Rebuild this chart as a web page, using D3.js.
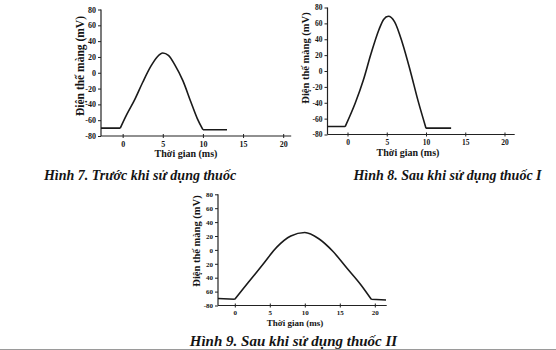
<!DOCTYPE html>
<html>
<head>
<meta charset="utf-8">
<script src="https://cdn.jsdelivr.net/npm/d3@7"></script>
<style>
  html, body { margin: 0; padding: 0; background: #fff; }
  svg { display: block; }
  text { font-family: "Liberation Serif", "DejaVu Serif", serif; fill: #141414; }
</style>
</head>
<body>
<svg id="chart" width="556" height="350"></svg>
<script>
// Membrane potential (mV) over time (ms) for the three recordings
const fig7Time = [-2.7, -0.3, 0.5, 1.5, 2.5, 3.5, 4.3, 5, 5.7, 6.5, 7.5, 8.5, 9.3, 10, 13];
const fig7Volt = [-70, -70, -53, -34, -12, 8, 20, 25, 22, 10, -10, -37, -58, -72, -72];

const fig8Time = [-2.55, -0.3, 1, 2, 3, 4, 4.6, 5.2, 6, 7, 8, 9, 10, 13.2];
const fig8Volt = [-70, -70, -40, -12, 22, 52, 65, 69, 62, 35, 0, -38, -72, -72];

const fig9Time = [-2.4, 0, 2, 4, 6, 8, 10, 12, 14, 16, 18, 19.5, 21.6];
const fig9Volt = [-70, -71, -46, -21, 4, 20, 25, 16, -2, -26, -50, -71, -72];

// Axis ticks and their labels
const xTicks = [0, 5, 10, 15, 20];
const yTicks = [-80, -60, -40, -20, 0, 20, 40, 60, 80];
const yTickLabels = ["-80", "-60", "-40", "-20", "0", "20", "40", "60", "80"];
const yTickLabelsFig9 = ["-80", "60", "40", "20", "0", "20", "40", "60", "80"];

// Titles
const xTitle = "Thời gian (ms)";
const yTitle = "Điện thế màng (mV)";
const captions = [
  "Hình 7. Trước khi sử dụng thuốc",
  "Hình 8. Sau khi sử dụng thuốc I",
  "Hình 9. Sau khi sử dụng thuốc II"
];

const svg = d3.select("#chart");

const panels = [
  { time: fig7Time, volt: fig7Volt, yLabels: yTickLabels, caption: captions[0],
    xDom: [-2.7, 21], xRange: [101, 291.2], yRange: [136, 9.5],
    tickFont: 8, yTitleFont: 11.5, yTitleX: 80, yTitleY: 66, xTitleFont: 10, xTitleX: 186, xTitleY: 157,
    capX: 140, capY: 180, capFont: 14 },
  { time: fig8Time, volt: fig8Volt, yLabels: yTickLabels, caption: captions[1],
    xDom: [-2.55, 21.3], xRange: [327.5, 514.7], yRange: [134.5, 7.5],
    tickFont: 7.5, yTitleFont: 10.5, yTitleX: 305, yTitleY: 58, xTitleFont: 10, xTitleX: 408, xTitleY: 156,
    capX: 447.5, capY: 180, capFont: 14 },
  { time: fig9Time, volt: fig9Volt, yLabels: yTickLabelsFig9, caption: captions[2],
    xDom: [-2.4, 21.7], xRange: [218, 386.7], yRange: [305.5, 194.3],
    tickFont: 7, yTitleFont: 10.5, yTitleX: 196, yTitleY: 241, xTitleFont: 9, xTitleX: 295, xTitleY: 326,
    capX: 293.5, capY: 346, capFont: 15 }
];

// Split a trace into pieces at the corners where the resting level meets the spike,
// so the smooth curve does not round those corners off.
function splitAtCorners(time, volt) {
  const flat = i => Math.abs(volt[i + 1] - volt[i]) < 2.5;
  const cuts = [0];
  for (let i = 1; i < volt.length - 1; i++) {
    if (flat(i - 1) !== flat(i)) cuts.push(i);
  }
  cuts.push(volt.length - 1);
  const pieces = [];
  for (let k = 0; k < cuts.length - 1; k++) {
    const piece = [];
    for (let i = cuts[k]; i <= cuts[k + 1]; i++) piece.push([time[i], volt[i]]);
    pieces.push(piece);
  }
  return pieces;
}

panels.forEach(p => {
  const x = d3.scaleLinear().domain(p.xDom).range(p.xRange);
  const y = d3.scaleLinear().domain([-80, 80]).range(p.yRange);
  const g = svg.append("g");

  // x axis along the bottom (y = -80)
  const xAxis = d3.axisBottom(x).tickValues(xTicks).tickSize(2).tickPadding(3)
    .tickFormat(d3.format("d"));
  const gx = g.append("g").attr("transform", `translate(0,${y(-80)})`).call(xAxis);
  gx.select(".domain").attr("d", `M${p.xRange[0]},0H${p.xRange[1]}`)
    .attr("stroke", "#222").attr("stroke-width", 1.2);
  gx.selectAll(".tick line").attr("y1", -2).attr("stroke", "#222");
  gx.selectAll(".tick text").attr("font-size", p.tickFont).attr("font-weight", "bold")
    .attr("font-family", "Liberation Serif").attr("fill", "#1a1a1a");

  // y axis at the left edge
  const yAxis = d3.axisLeft(y).tickValues(yTicks).tickSize(3).tickPadding(2)
    .tickFormat((d, i) => p.yLabels[i]);
  const gy = g.append("g").attr("transform", `translate(${p.xRange[0]},0)`).call(yAxis);
  gy.select(".domain").attr("d", `M0,${p.yRange[0]}V${p.yRange[1]}`)
    .attr("stroke", "#222").attr("stroke-width", 1.2);
  gy.selectAll(".tick line").attr("stroke", "#222");
  gy.selectAll(".tick text").attr("font-size", p.tickFont).attr("font-weight", "bold")
    .attr("font-family", "Liberation Serif").attr("fill", "#1a1a1a");

  // action potential trace
  const line = d3.line()
    .x(d => x(d[0]))
    .y(d => y(d[1]))
    .curve(d3.curveMonotoneX);
  const pathD = splitAtCorners(p.time, p.volt).map(piece => line(piece)).join("");
  g.append("path").attr("d", pathD)
    .attr("fill", "none").attr("stroke", "#1a1a1a").attr("stroke-width", 1.6)
    .attr("stroke-linejoin", "round");

  // axis titles
  g.append("text").attr("x", p.xTitleX).attr("y", p.xTitleY)
    .attr("text-anchor", "middle").attr("font-size", p.xTitleFont).attr("font-weight", "bold")
    .text(xTitle);
  g.append("text")
    .attr("transform", `translate(${p.yTitleX + p.yTitleFont * 0.35},${p.yTitleY}) rotate(-90)`)
    .attr("text-anchor", "middle").attr("font-size", p.yTitleFont).attr("font-weight", "bold")
    .text(yTitle);

  // figure caption
  g.append("text").attr("x", p.capX).attr("y", p.capY)
    .attr("text-anchor", "middle").attr("font-size", p.capFont)
    .attr("font-weight", "bold").attr("font-style", "italic")
    .text(p.caption);
});

// rule under the last caption
svg.append("line").attr("x1", 0).attr("x2", 556).attr("y1", 349.5).attr("y2", 349.5)
  .attr("stroke", "#9a9a9a").attr("stroke-width", 1);
</script>
</body>
</html>
